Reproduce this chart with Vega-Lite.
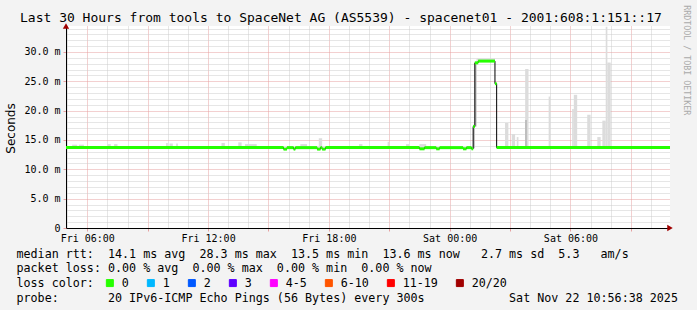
{
  "$schema": "https://vega.github.io/schema/vega-lite/v6.json",
  "width": 604,
  "height": 202,
  "autosize": {"type": "none"},
  "padding": {"left": 66, "top": 26, "right": 27, "bottom": 82},
  "background": "#f3f3f3",
  "view": {"fill": "#ffffff", "stroke": null},
  "config": {
    "font": "DejaVu Sans Mono",
    "axis": {"domainColor": "#000000", "domainWidth": 1, "labelFont": "DejaVu Sans Mono", "labelFontSize": 10, "labelColor": "#000000", "tickSize": 3, "gridDash": [1, 1], "gridWidth": 1, "titleFontWeight": "normal", "titleColor": "#000000"}
  },
  "title": {
    "text": "Last 30 Hours from tools to SpaceNet AG (AS5539) - spacenet01 - 2001:608:1:151::17",
    "anchor": "start", "frame": "group", "dx": -46, "offset": -30,
    "font": "DejaVu Sans Mono", "fontSize": 13, "fontWeight": "normal", "color": "#000000", "baseline": "alphabetic"
  },
  "datasets": {
    "median": [
      {"t": "2025-11-21T04:56:38", "t2": "2025-11-21T15:45:00", "ms": 13.7, "loss": "0"},
      {"t": "2025-11-21T15:45:00", "t2": "2025-11-21T15:55:00", "ms": 13.45, "loss": "0"},
      {"t": "2025-11-21T15:55:00", "t2": "2025-11-21T16:15:00", "ms": 13.7, "loss": "0"},
      {"t": "2025-11-21T16:15:00", "t2": "2025-11-21T16:20:00", "ms": 13.45, "loss": "0"},
      {"t": "2025-11-21T16:20:00", "t2": "2025-11-21T17:25:00", "ms": 13.7, "loss": "0"},
      {"t": "2025-11-21T17:25:00", "t2": "2025-11-21T17:35:00", "ms": 13.45, "loss": "0"},
      {"t": "2025-11-21T17:35:00", "t2": "2025-11-21T17:40:00", "ms": 13.7, "loss": "0"},
      {"t": "2025-11-21T17:40:00", "t2": "2025-11-21T17:50:00", "ms": 13.45, "loss": "0"},
      {"t": "2025-11-21T17:50:00", "t2": "2025-11-21T22:30:00", "ms": 13.7, "loss": "0"},
      {"t": "2025-11-21T22:30:00", "t2": "2025-11-21T22:45:00", "ms": 13.5, "loss": "0"},
      {"t": "2025-11-21T22:45:00", "t2": "2025-11-21T23:20:00", "ms": 13.7, "loss": "0"},
      {"t": "2025-11-21T23:20:00", "t2": "2025-11-21T23:30:00", "ms": 13.5, "loss": "0"},
      {"t": "2025-11-21T23:30:00", "t2": "2025-11-22T00:40:00", "ms": 13.7, "loss": "0"},
      {"t": "2025-11-22T00:40:00", "t2": "2025-11-22T00:50:00", "ms": 13.5, "loss": "0"},
      {"t": "2025-11-22T00:50:00", "t2": "2025-11-22T01:05:00", "ms": 13.7, "loss": "0"},
      {"t": "2025-11-22T01:05:00", "t2": "2025-11-22T01:10:00", "ms": 13.5, "loss": "0"},
      {"t": "2025-11-22T01:10:00", "t2": "2025-11-22T01:15:00", "ms": 17.3, "loss": "0"},
      {"t": "2025-11-22T01:15:00", "t2": "2025-11-22T01:25:00", "ms": 28.15, "loss": "0"},
      {"t": "2025-11-22T01:25:00", "t2": "2025-11-22T02:15:00", "ms": 28.45, "loss": "0"},
      {"t": "2025-11-22T02:15:00", "t2": "2025-11-22T02:20:00", "ms": 24.6, "loss": "0"},
      {"t": "2025-11-22T02:20:00", "t2": "2025-11-22T10:56:38", "ms": 13.7, "loss": "0"},
      {"t": "2025-11-22T10:56:38", "t2": "2025-11-22T10:56:38", "ms": 13.7, "loss": "0"}
    ],
    "smoke": [
      {"t": "2025-11-21T05:15:00", "t2": "2025-11-21T05:30:00", "lo": 13.7, "hi": 14.2},
      {"t": "2025-11-21T05:35:00", "t2": "2025-11-21T05:50:00", "lo": 13.7, "hi": 14.2},
      {"t": "2025-11-21T07:00:00", "t2": "2025-11-21T07:10:00", "lo": 13.7, "hi": 14.3},
      {"t": "2025-11-21T07:20:00", "t2": "2025-11-21T07:30:00", "lo": 13.7, "hi": 14.3},
      {"t": "2025-11-21T09:55:00", "t2": "2025-11-21T10:00:00", "lo": 13.7, "hi": 14.5},
      {"t": "2025-11-21T10:05:00", "t2": "2025-11-21T10:15:00", "lo": 13.7, "hi": 14.4},
      {"t": "2025-11-21T10:25:00", "t2": "2025-11-21T10:30:00", "lo": 13.7, "hi": 14.4},
      {"t": "2025-11-21T12:40:00", "t2": "2025-11-21T12:50:00", "lo": 13.7, "hi": 14.5},
      {"t": "2025-11-21T13:30:00", "t2": "2025-11-21T13:40:00", "lo": 13.7, "hi": 14.6},
      {"t": "2025-11-21T13:50:00", "t2": "2025-11-21T14:25:00", "lo": 13.7, "hi": 14.3},
      {"t": "2025-11-21T16:35:00", "t2": "2025-11-21T16:55:00", "lo": 13.7, "hi": 14.3},
      {"t": "2025-11-21T17:30:00", "t2": "2025-11-21T17:40:00", "lo": 13.7, "hi": 15.3},
      {"t": "2025-11-21T19:30:00", "t2": "2025-11-21T19:40:00", "lo": 13.7, "hi": 14.3},
      {"t": "2025-11-21T20:55:00", "t2": "2025-11-21T21:00:00", "lo": 13.7, "hi": 14.7},
      {"t": "2025-11-21T21:50:00", "t2": "2025-11-21T22:00:00", "lo": 13.7, "hi": 14.3},
      {"t": "2025-11-21T22:30:00", "t2": "2025-11-21T22:50:00", "lo": 13.7, "hi": 14.3},
      {"t": "2025-11-22T01:20:00", "t2": "2025-11-22T02:15:00", "lo": 28.3, "hi": 28.9},
      {"t": "2025-11-22T02:45:00", "t2": "2025-11-22T02:55:00", "lo": 13.7, "hi": 17.9},
      {"t": "2025-11-22T03:05:00", "t2": "2025-11-22T03:15:00", "lo": 13.7, "hi": 16.0},
      {"t": "2025-11-22T03:20:00", "t2": "2025-11-22T03:25:00", "lo": 13.7, "hi": 15.5},
      {"t": "2025-11-22T03:45:00", "t2": "2025-11-22T03:55:00", "lo": 13.7, "hi": 27.1},
      {"t": "2025-11-22T04:55:00", "t2": "2025-11-22T05:00:00", "lo": 13.7, "hi": 22.4},
      {"t": "2025-11-22T06:05:00", "t2": "2025-11-22T06:10:00", "lo": 13.7, "hi": 20.3},
      {"t": "2025-11-22T06:10:00", "t2": "2025-11-22T06:20:00", "lo": 13.7, "hi": 22.7},
      {"t": "2025-11-22T06:50:00", "t2": "2025-11-22T07:00:00", "lo": 13.7, "hi": 19.3},
      {"t": "2025-11-22T07:20:00", "t2": "2025-11-22T07:30:00", "lo": 13.7, "hi": 15.5},
      {"t": "2025-11-22T07:35:00", "t2": "2025-11-22T07:45:00", "lo": 13.7, "hi": 18.3},
      {"t": "2025-11-22T07:45:00", "t2": "2025-11-22T07:50:00", "lo": 13.7, "hi": 34.3},
      {"t": "2025-11-22T07:50:00", "t2": "2025-11-22T08:00:00", "lo": 13.7, "hi": 28.2}
    ],
    "smoke_dark": [
      {"t": "2025-11-22T01:10:00", "t2": "2025-11-22T01:15:00", "lo": 13.6, "hi": 17.6},
      {"t": "2025-11-22T01:15:00", "t2": "2025-11-22T01:20:00", "lo": 17.3, "hi": 28.3},
      {"t": "2025-11-22T03:45:00", "t2": "2025-11-22T03:50:00", "lo": 13.7, "hi": 18.4}
    ],
    "arrows": [
      {"t": "2025-11-21T04:56:38", "v": 34.43, "dir": "up"},
      {"t": "2025-11-22T10:56:38", "v": 0, "dir": "right"}
    ],
    "notes": [
      {"t": "2025-11-22T10:56:38", "v": 28.6, "label": "RRDTOOL / TOBI OETIKER"}
    ]
  },
  "layer": [
    {
      "data": {"name": "smoke"},
      "mark": {"type": "rect", "color": "#dcdcdc"},
      "encoding": {
        "x": {"field": "t", "type": "temporal", "scale": {"domain": ["2025-11-21T04:56:38", "2025-11-22T10:56:38"]},
          "axis": {
            "tickCount": 30,
            "labelExpr": "hours(datum.value) % 6 === 0 && minutes(datum.value) === 0 ? timeFormat(datum.value, '%a %H:%M') : ''",
            "labelAngle": 0, "labelAlign": "center", "labelBaseline": "top", "labelPadding": 2.5, "labelOverlap": false, "labelFlush": false,
            "grid": true,
            "gridColor": {"condition": {"test": "hours(datum.value) % 3 === 0", "value": "#e6a0a0"}, "value": "#cccccc"},
            "tickColor": "#e6a0a0",
            "tickOpacity": {"condition": {"test": "hours(datum.value) % 3 === 0", "value": 1}, "value": 0},
            "title": ["median rtt:\u00a0\u00a014.1 ms avg\u00a0\u00a028.3 ms max\u00a0\u00a013.5 ms min\u00a0\u00a013.6 ms now\u00a0\u00a0\u00a02.7 ms sd\u00a0\u00a05.3\u00a0\u00a0\u00a0am/s", "packet loss: 0.00 % avg\u00a0\u00a00.00 % max\u00a0\u00a00.00 % min\u00a0\u00a00.00 % now", "loss color:", "probe:\u00a0\u00a0\u00a0\u00a0\u00a0\u00a0\u00a020 IPv6-ICMP Echo Pings (56 Bytes) every 300s\u00a0\u00a0\u00a0\u00a0\u00a0\u00a0\u00a0\u00a0\u00a0\u00a0\u00a0\u00a0Sat Nov 22 10:56:38 2025"],
            "titleX": -50, "titleY": 20, "titleAlign": "left", "titleBaseline": "top", "titleFont": "DejaVu Sans Mono", "titleFontSize": 11.7, "titleLineHeight": 14.7, "titleFontWeight": "normal", "titleColor": "#000000"
          }},
        "x2": {"field": "t2"},
        "y": {"field": "lo", "type": "quantitative", "scale": {"domain": [0, 34.43], "nice": false, "zero": false},
          "axis": {
            "values": [0,1,2,3,4,5,6,7,8,9,10,11,12,13,14,15,16,17,18,19,20,21,22,23,24,25,26,27,28,29,30,31,32,33,34],
            "tickCount": 100,
            "labelExpr": "datum.value == 0 ? '0' : (datum.value % 5 == 0 ? datum.label + ' m' : '')",
            "labelPadding": 3, "labelBaseline": "middle", "labelAlign": "right", "labelOverlap": false,
            "grid": true,
            "gridColor": {"condition": {"test": "datum.value % 5 == 0", "value": "#e6a0a0"}, "value": "#cccccc"},
            "tickColor": "#e6a0a0",
            "tickOpacity": {"condition": {"test": "datum.value % 5 == 0", "value": 1}, "value": 0},
            "title": "Seconds", "titleFont": "DejaVu Sans", "titleFontSize": 12, "titleFontWeight": "normal", "titleX": -56, "titleY": 102, "titleAngle": 270, "titleAlign": "center", "titleBaseline": "middle"
          }},
        "y2": {"field": "hi"}
      }
    },
    {
      "data": {"name": "smoke_dark"},
      "mark": {"type": "rect", "color": "#b8b8b8"},
      "encoding": {
        "x": {"field": "t", "type": "temporal"},
        "x2": {"field": "t2"},
        "y": {"field": "lo", "type": "quantitative"},
        "y2": {"field": "hi"}
      }
    },
    {
      "data": {"name": "median"},
      "mark": {"type": "line", "interpolate": "step-after", "color": "#000000", "strokeWidth": 1},
      "encoding": {
        "x": {"field": "t", "type": "temporal"},
        "y": {"field": "ms", "type": "quantitative"}
      }
    },
    {
      "data": {"name": "median"},
      "mark": {"type": "rule", "strokeWidth": 3},
      "encoding": {
        "x": {"field": "t", "type": "temporal"},
        "x2": {"field": "t2"},
        "y": {"field": "ms", "type": "quantitative"},
        "color": {"field": "loss", "type": "nominal",
          "scale": {"domain": ["0", "1", "2", "3", "4-5", "6-10", "11-19", "20/20"], "range": ["#26ff00", "#00b8ff", "#0059ff", "#5e00ff", "#ff00ff", "#ff5500", "#ff0000", "#a10000"]},
          "legend": {"orient": "none", "legendX": 38, "legendY": 251, "direction": "horizontal", "title": null, "symbolType": "square", "symbolSize": 49, "labelFont": "DejaVu Sans Mono", "labelFontSize": 11.7, "labelColor": "#000000", "labelOffset": 6, "columnPadding": 16,
            "encode": {"symbols": {"update": {"fill": {"scale": "color", "field": "value"}, "stroke": {"value": "#000000"}, "strokeWidth": {"value": 1}, "opacity": {"value": 1}, "fillOpacity": {"value": 1}}}}}
        }
      }
    },
    {
      "data": {"name": "arrows"},
      "mark": {"type": "point", "filled": true, "size": 40, "opacity": 1, "clip": false, "color": "#a00000"},
      "encoding": {
        "x": {"field": "t", "type": "temporal"},
        "y": {"field": "v", "type": "quantitative"},
        "shape": {"field": "dir", "type": "nominal", "scale": {"domain": ["up", "right"], "range": ["triangle-up", "triangle-right"]}, "legend": null}
      }
    },
    {
      "data": {"name": "notes"},
      "mark": {"type": "text", "angle": 90, "xOffset": 15.5, "align": "center", "baseline": "middle", "font": "DejaVu Sans Mono", "fontSize": 8.3, "color": "#aaaaaa", "clip": false},
      "encoding": {
        "x": {"field": "t", "type": "temporal"},
        "y": {"field": "v", "type": "quantitative"},
        "text": {"field": "label"}
      }
    }
  ]
}
